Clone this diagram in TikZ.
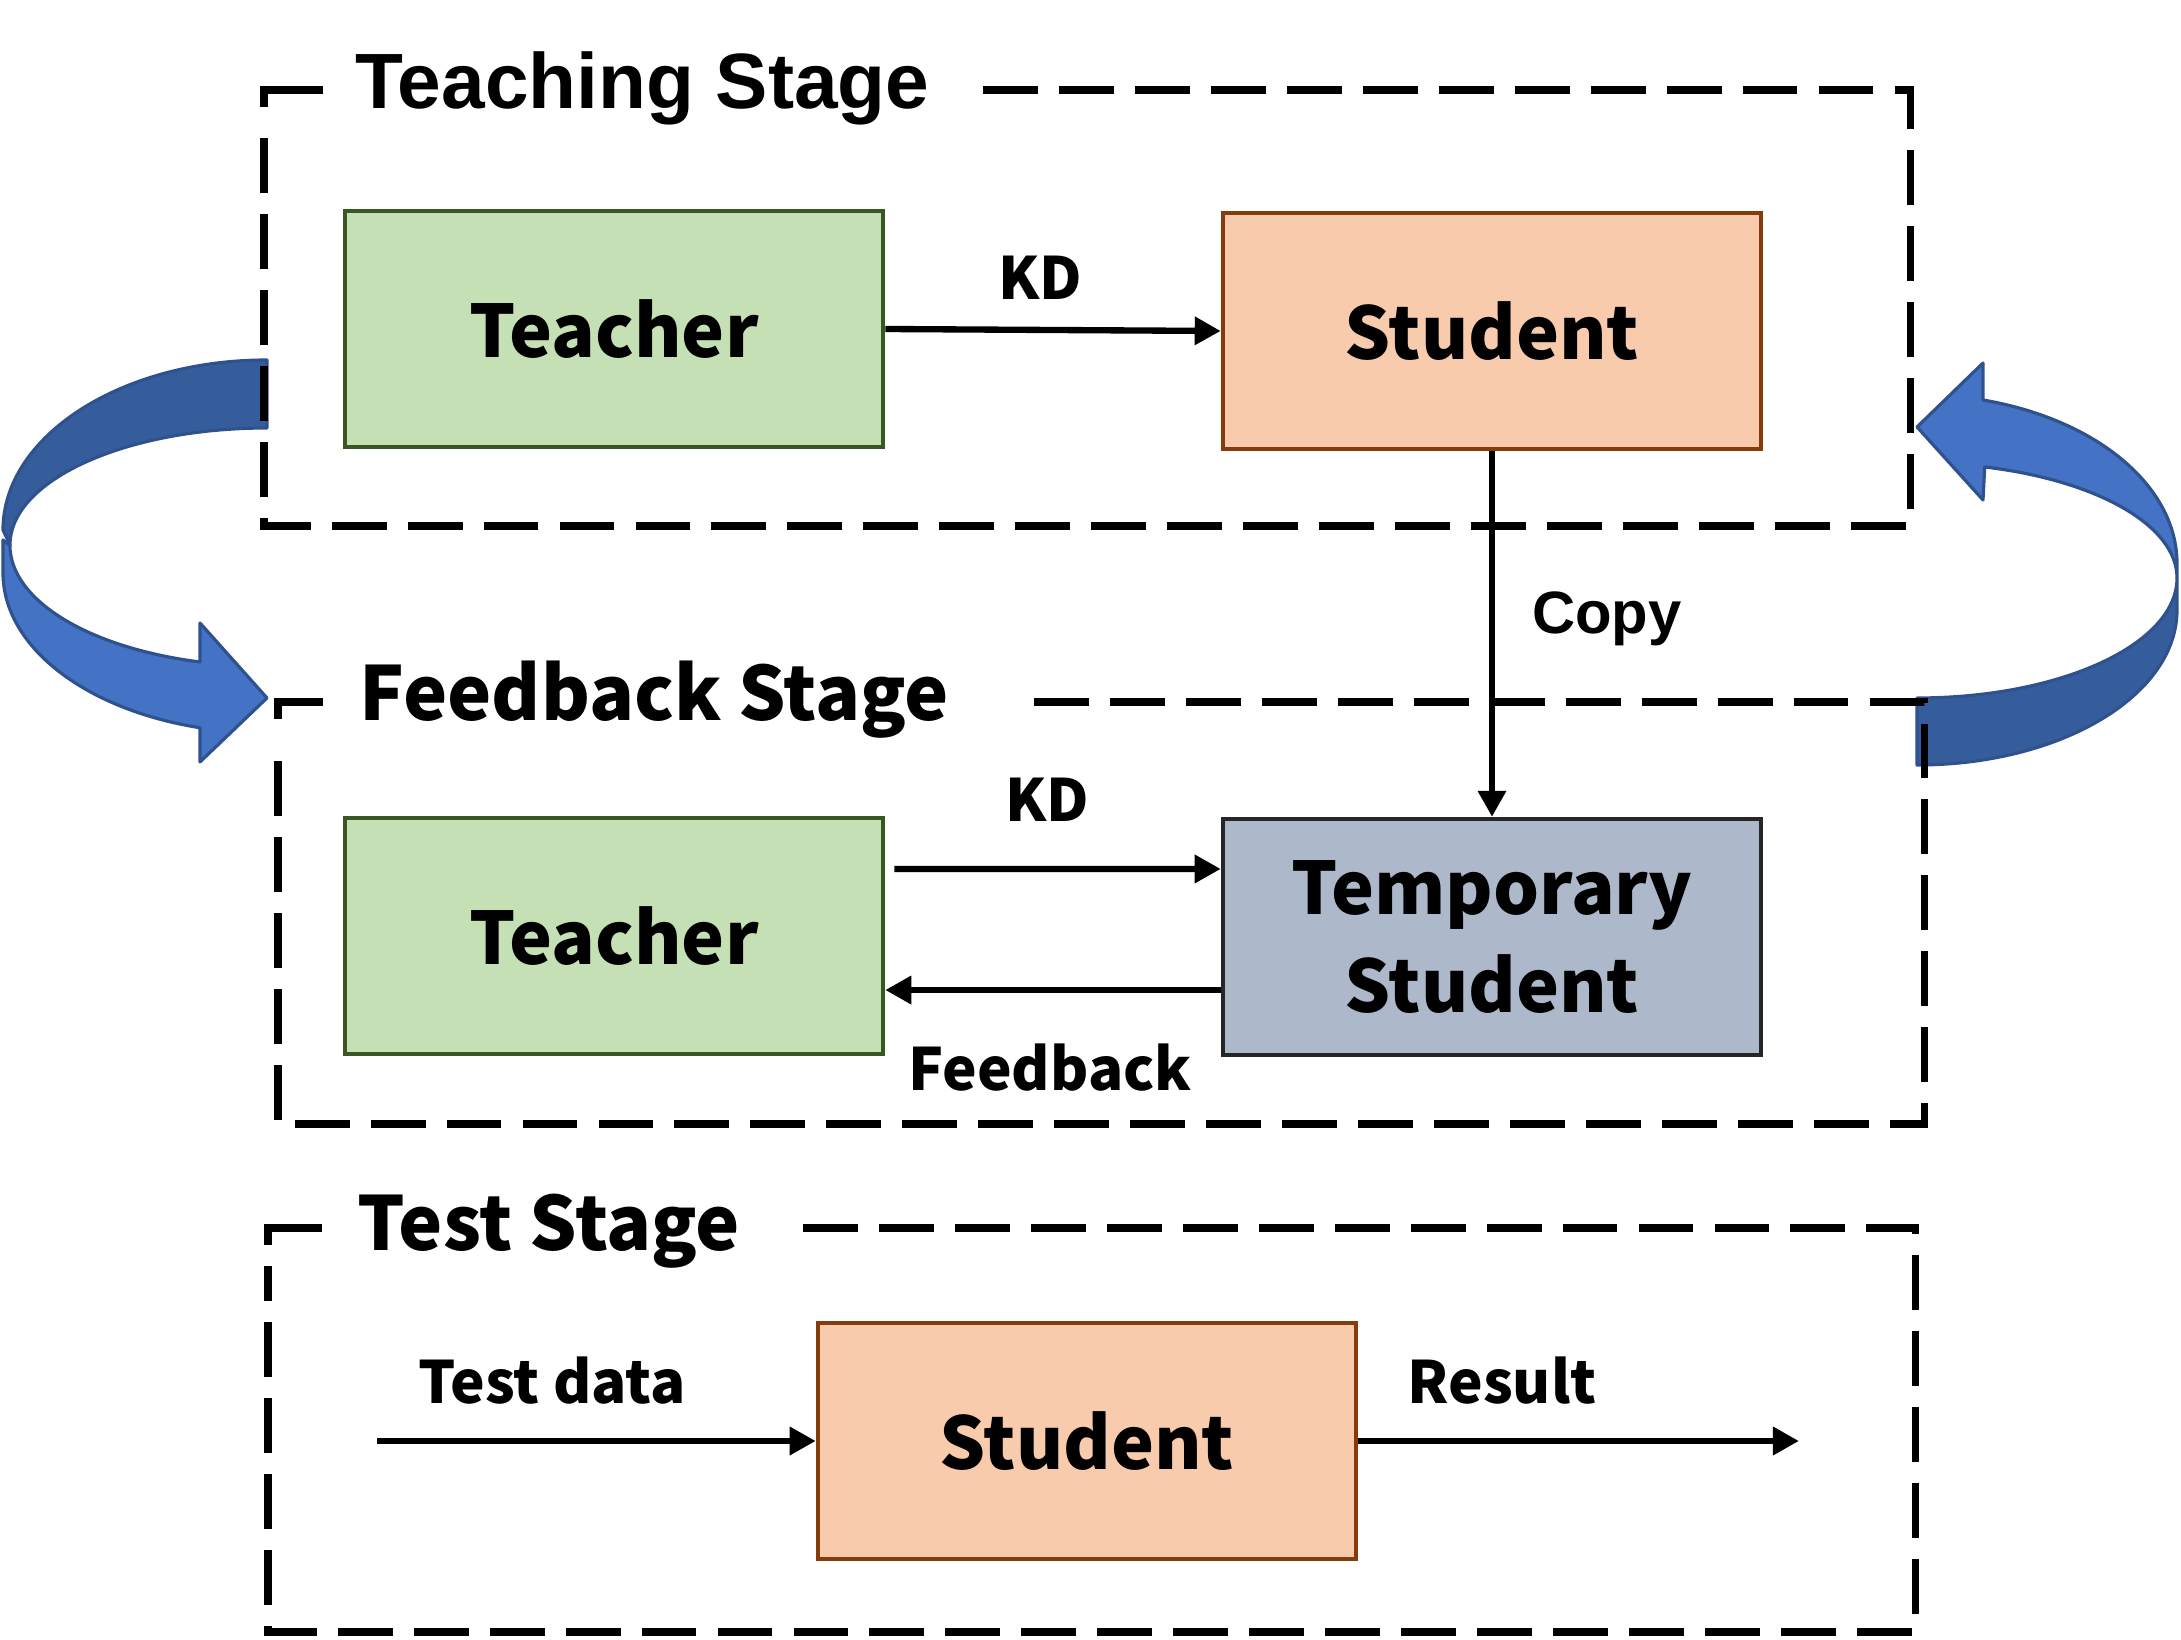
\documentclass[tikz,border=0pt]{standalone}
\usepackage{fontspec}
\setmainfont{Liberation Sans}
\newfontfamily\nsf{Noto Sans CJK SC}
\usetikzlibrary{arrows.meta,calc}
\definecolor{tgreen}{HTML}{C5E0B4}
\definecolor{tgreenb}{HTML}{385723}
\definecolor{sorange}{HTML}{F8CBAD}
\definecolor{sorangeb}{HTML}{843C0C}
\definecolor{tgray}{HTML}{ADB9CA}
\definecolor{tgrayb}{HTML}{262626}
\definecolor{blight}{HTML}{4472C4}
\definecolor{bdark}{HTML}{365D9B}
\definecolor{bedge}{HTML}{2F528F}
\begin{document}
\begin{tikzpicture}[x=0.01cm,y=-0.01cm,
  box/.style={draw, line width=1.2pt, minimum width=5.38cm, minimum height=2.36cm, inner sep=0pt, align=center, font=\nsf\bfseries\fontsize{20.6}{27.6}\selectfont},
  stage/.style={draw, line width=2pt, dash pattern=on 15.6pt off 6pt},
  corner/.style={draw, line width=2pt},
  title/.style={anchor=west, inner sep=0pt, font=\bfseries\fontsize{22.3}{26}\selectfont},
  ctitle/.style={anchor=west, inner sep=0pt, font=\nsf\bfseries\fontsize{21.2}{26}\selectfont},
  lab/.style={inner sep=0pt, font=\nsf\bfseries\fontsize{16.6}{20}\selectfont},
  conn/.style={line width=1.8pt, -{Triangle[length=7.4pt,width=7.7pt]}},
  ribbon/.style={draw=bedge, line width=0.9pt, line join=round}]
\useasboundingbox (0,0) rectangle (2181,1640);

% curved ribbon arrows
\filldraw[ribbon, fill=bdark] (267,360) arc[start angle=270, end angle=180, x radius=264, y radius=170]
  -- (10,545) arc[start angle=180, end angle=270, x radius=257, y radius=117] -- cycle;
\filldraw[ribbon, fill=blight] (3,540) -- (3,573) arc[start angle=180, end angle=104.7, x radius=264, y radius=160]
  -- (200,762) -- (267,698) -- (200,623) -- (200,662)
  arc[start angle=105.1, end angle=180, x radius=257, y radius=121] -- cycle;

\filldraw[ribbon, fill=blight] (1983,400) arc[start angle=-75.3, end angle=0, x radius=260, y radius=169]
  -- (2177,578) arc[start angle=0, end angle=-74.9, x radius=260, y radius=115]
  -- (1983,500) -- (1917,427) -- (1983,363) -- cycle;
\filldraw[ribbon, fill=bdark] (2177,578) arc[start angle=0, end angle=90, x radius=260, y radius=120]
  -- (1917,765) arc[start angle=90, end angle=0, x radius=260, y radius=155] -- cycle;

% stage frames
\draw[corner] (323,90) -- (264,90) -- (264,107);
\draw[stage] (983,90) -- (1910,90) -- (1910,526) -- (264,526) -- (264,128);
\draw[corner] (323,702) -- (278,702) -- (278,719);
\draw[stage] (1034,702) -- (1924,702) -- (1924,1124) -- (278,1124) -- (278,740);
\draw[corner] (322,1228) -- (268,1228) -- (268,1245);
\draw[stage] (803,1228) -- (1915,1228) -- (1915,1632) -- (268,1632) -- (268,1266);

\node[title] (ts) at (355,88) {Teaching Stage};
\node[ctitle] (fs) at (359,700) {Feedback Stage};
\node[ctitle] (tst) at (357,1231) {Test Stage};

% nodes
\node[box, fill=tgreen, draw=tgreenb] (t1) at (614,329) {Teacher};
\node[box, fill=sorange, draw=sorangeb] (s1) at (1492,331) {Student};
\node[box, fill=tgreen, draw=tgreenb] (t2) at (614,936) {Teacher};
\node[box, fill=tgray, draw=tgrayb] (tmp) at (1492,937) {Temporary\\Student};
\node[box, fill=sorange, draw=sorangeb] (s3) at (1087,1441) {Student};

% connectors
\draw[conn] (t1.east) -- (s1.west);
\draw[conn] (s1.south) -- (tmp.north);
\draw[conn] ([shift={(9,-67)}]t2.east) -- ([yshift=0.68cm]tmp.west);
\draw[conn] ([yshift=-0.53cm]tmp.west) -- ([yshift=-0.54cm]t2.east);
\coordinate (tdin) at (377,1441);
\coordinate (rout) at (1799,1441);
\draw[conn] (tdin) -- (s3.west);
\draw[conn] (s3.east) -- (rout);

% labels
\node[lab] (kd1) at (1040,278) {KD};
\node[lab, font=\bfseries\fontsize{17}{20}\selectfont] (copy) at (1607,619) {Copy};
\node[lab] (kd2) at (1047,800) {KD};
\node[lab] (fb) at (1050,1068) {Feedback};
\node[lab] (td) at (552,1381) {Test data};
\node[lab] (res) at (1502,1381) {Result};
\end{tikzpicture}
\end{document}
